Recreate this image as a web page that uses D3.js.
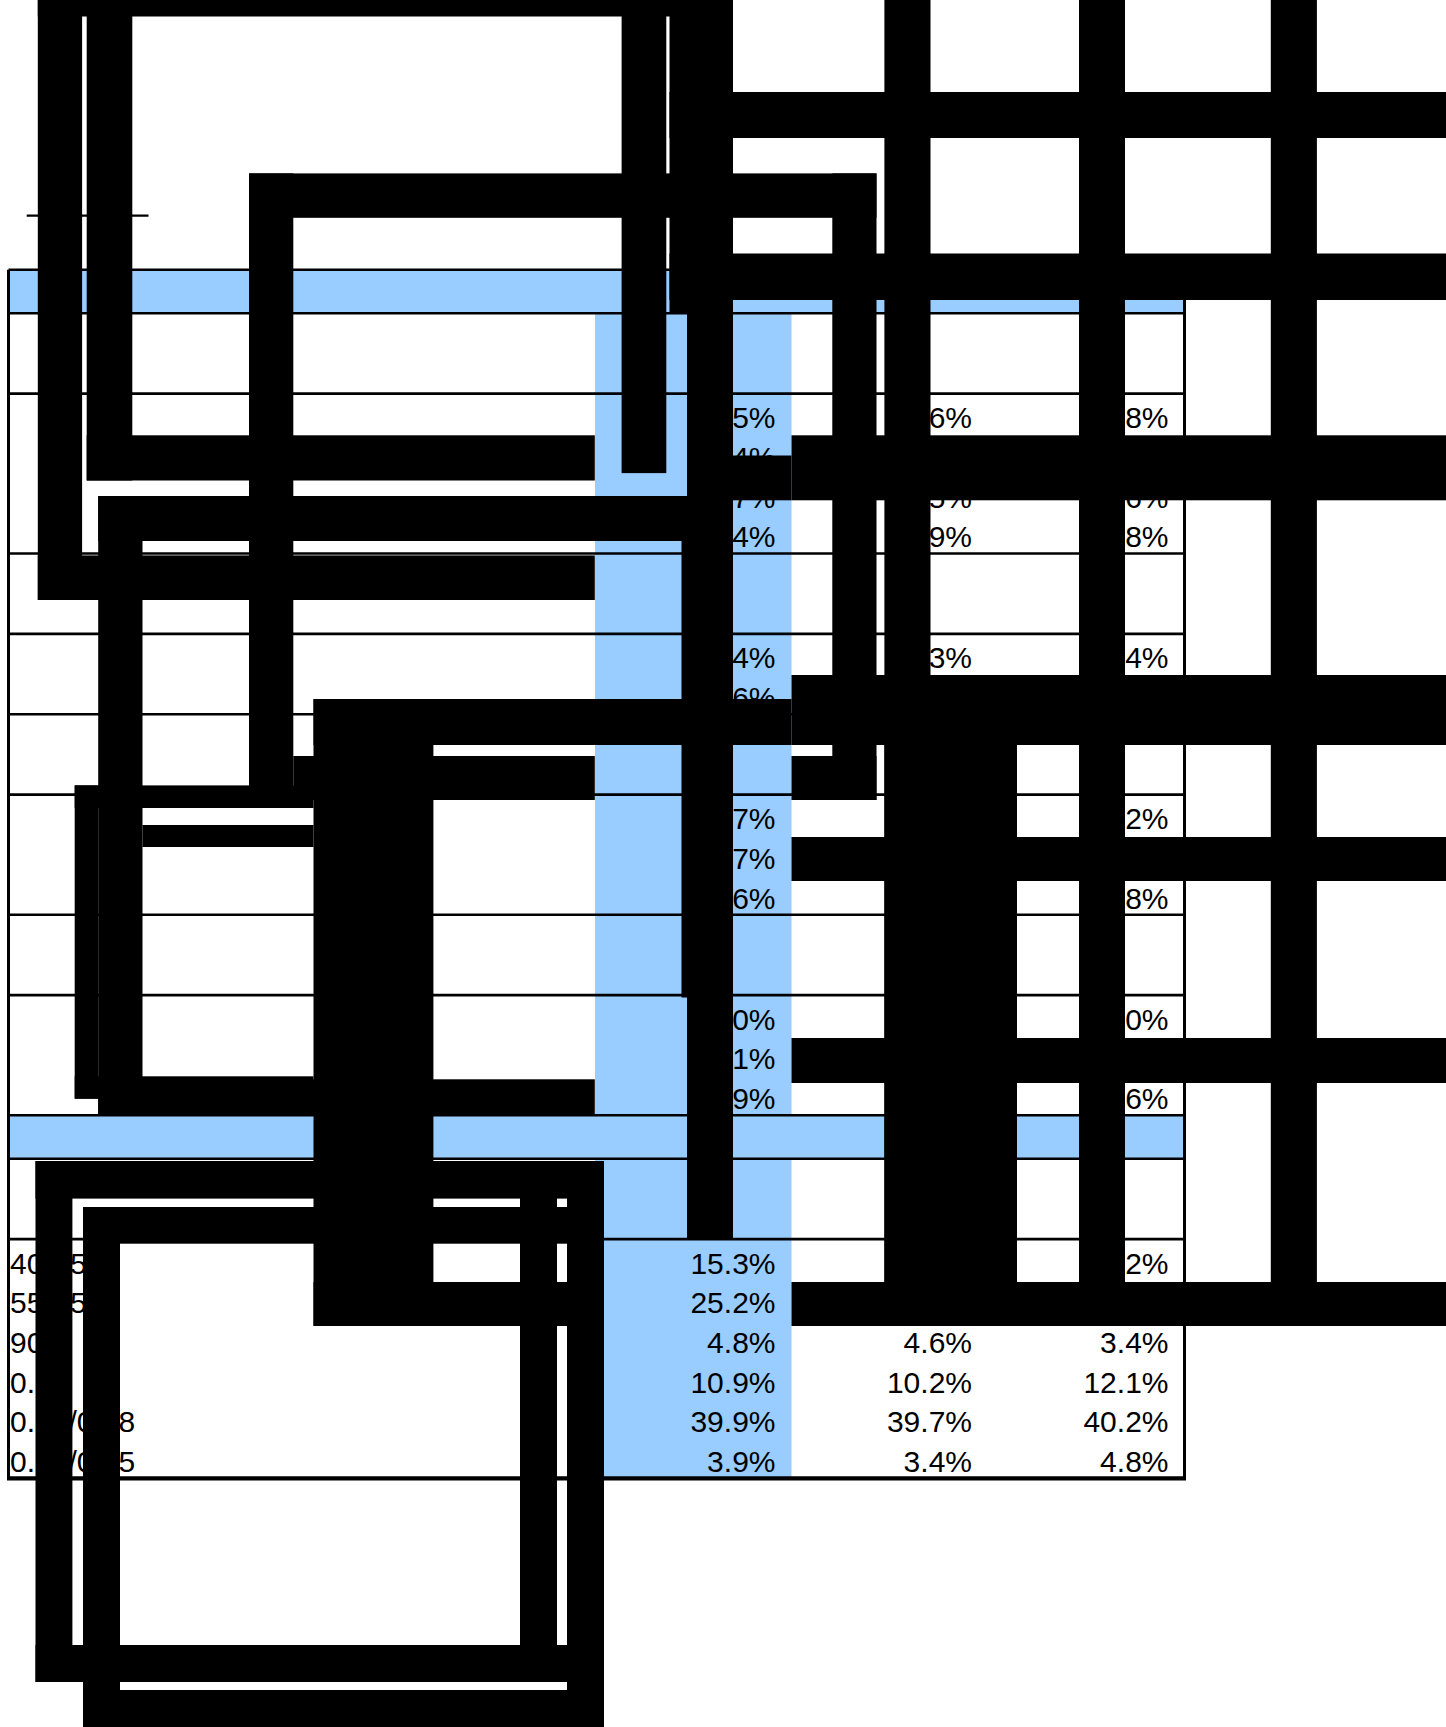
<!DOCTYPE html>
<html>
<head>
<meta charset="utf-8">
<script src="https://cdn.jsdelivr.net/npm/d3@7/dist/d3.min.js"></script>
<style>
  html, body { margin: 0; padding: 0; background: #fff; }
  svg { display: block; }
</style>
</head>
<body>
<div id="table"></div>
<script>
// Tamaño del lienzo
const width = 1446;
const height = 1727;

// Columnas de valores
const columns = ["overall", "group1", "group2"];

// Líneas de datos de cada bloque
const blockLines = [4, 2, 3, 3, 6];

// Valores por columna y bloque
const overall = [
  ["12.5%", "21.4%", "33.7%", "32.4%"],
  ["61.4%", "38.6%"],
  ["27.7%", "48.7%", "23.6%"],
  ["35.0%", "41.1%", "23.9%"],
  ["15.3%", "25.2%", "4.8%", "10.9%", "39.9%", "3.9%"]
];
const group1 = [
  ["12.6%", "20.1%", "35.5%", "31.9%"],
  ["60.3%", "39.7%"],
  ["27.3%", "48.9%", "23.8%"],
  ["35.1%", "41.5%", "23.4%"],
  ["15.4%", "25.5%", "4.6%", "10.2%", "39.7%", "3.4%"]
];
const group2 = [
  ["12.8%", "22.9%", "31.6%", "32.8%"],
  ["62.4%", "37.6%"],
  ["28.2%", "48.0%", "23.8%"],
  ["35.0%", "40.4%", "24.6%"],
  ["15.2%", "24.8%", "3.4%", "12.1%", "40.2%", "4.8%"]
];

// Etiquetas del último bloque
const lastLabels = ["40-55", "55-65", "90+", "0.85", "0.80/0.78", "0.95/0.85"];

// Cajas negras de tachado [x0, y0, x1, y1] en píxeles de página
const blackBoxes = [
  [37.8, 0, 733, 16.5], [37.8, 0, 82.1, 600], [37.8, 555.4, 594.8, 600],
  [86.7, 0, 132.3, 480.5], [86.7, 435.3, 594.8, 480.5],
  [621.6, 0, 666.3, 473.1], [669.5, 0, 733, 313], [687, 0, 733, 1240], [681.5, 541, 733, 997.5],
  [669.5, 92, 1446, 138], [669.5, 253.5, 1446, 300],
  [249, 173.4, 876.5, 217.8], [249, 173.4, 293.3, 800], [832.3, 173.4, 876.5, 800],
  [293.3, 756, 594.8, 800], [791.5, 756, 876.5, 800],
  [884.4, 0, 930.5, 1282], [884.4, 745, 1017, 1282], [1079, 0, 1125, 1282], [1270.8, 0, 1316.9, 1282],
  [791.5, 435.3, 1446, 500.3], [733, 455.5, 791.5, 500.3],
  [98.2, 496, 733, 541], [98.2, 496, 142.5, 1114.2], [98.2, 1079.3, 594.8, 1114.2],
  [313.5, 699, 791.5, 745], [791.5, 675, 1446, 745], [313.5, 699, 433.4, 1326],
  [74.7, 785.4, 98.2, 1098.7], [74.7, 785.4, 313.5, 808], [74.7, 1076.3, 313.5, 1098.7],
  [142.5, 825, 313.5, 847],
  [791.5, 837, 1446, 881], [791.5, 1038, 1446, 1083],
  [313.5, 1282, 604, 1326], [791.5, 1282, 1446, 1326],
  [35.5, 1161, 604, 1198.6], [35.5, 1161, 72.4, 1682], [520, 1161, 557, 1682], [35.5, 1645, 604, 1682],
  [83, 1207, 604, 1243.7], [83, 1207, 120, 1727], [567, 1161, 604, 1727], [83, 1690, 604, 1727]
];

// Geometría de la tabla
const tableLeft = 8.5, tableRight = 1184.5, tableTop = 269.75;
const labelRight = 595;
const lineHeight = 39.7, rowPad = 1, bandHeight = 43.5, baseOffset = 34.5;
const blue = "#99ccff";
const font = "'Liberation Sans', Arial, Helvetica, sans-serif";

const svg = d3.select("#table").append("svg")
    .attr("width", width)
    .attr("height", height)
    .attr("viewBox", [0, 0, width, height]);

// Escalas de página y de columnas
const px = d3.scaleLinear([0, width], [0, width]);
const py = d3.scaleLinear([0, height], [0, height]);
const xCol = d3.scaleBand(columns, [labelRight, tableRight]);

// Construye las filas: banda, encabezado de bloque, datos
const rows = [{ kind: "band" }];
blockLines.forEach((n, b) => {
    if (b === blockLines.length - 1) rows.push({ kind: "band" });
    rows.push({ kind: "heading", lines: 2 });
    rows.push({ kind: "data", lines: n, block: b });
});
let yCur = tableTop;
rows.forEach(r => {
    r.y = yCur;
    r.h = r.kind === "band" ? bandHeight : r.lines * lineHeight + rowPad;
    yCur += r.h;
});
const tableBottom = yCur;
const bodyTop = rows[1].y;

// Fondos azules
svg.append("rect")
    .attr("x", xCol("overall")).attr("y", bodyTop)
    .attr("width", xCol.bandwidth()).attr("height", tableBottom - bodyTop)
    .attr("fill", blue);

svg.selectAll("rect.band")
    .data(rows.filter(r => r.kind === "band"))
    .join("rect")
    .attr("class", "band")
    .attr("x", tableLeft).attr("y", d => d.y)
    .attr("width", tableRight - tableLeft).attr("height", d => d.h)
    .attr("fill", blue);

// Líneas horizontales de filas
svg.selectAll("line.row")
    .data(rows)
    .join("line")
    .attr("class", "row")
    .attr("x1", tableLeft).attr("x2", tableRight)
    .attr("y1", d => d.y).attr("y2", d => d.y)
    .attr("stroke", "#000").attr("stroke-width", 2.6);

svg.append("line")
    .attr("x1", tableLeft - 1.5).attr("x2", tableRight + 1.5)
    .attr("y1", tableBottom).attr("y2", tableBottom)
    .attr("stroke", "#000").attr("stroke-width", 4.2);

// Bordes verticales
svg.selectAll("line.side")
    .data([tableLeft, tableRight])
    .join("line")
    .attr("class", "side")
    .attr("x1", d => d).attr("x2", d => d)
    .attr("y1", tableTop).attr("y2", tableBottom)
    .attr("stroke", "#000").attr("stroke-width", 3);

// Textos de las celdas
const series = { overall, group1, group2 };
const cells = [];
rows.filter(r => r.kind === "data").forEach(r => {
    for (let i = 0; i < r.lines; i++) {
        const yb = r.y + baseOffset + i * lineHeight;
        if (r.block === blockLines.length - 1) {
            cells.push({ x: tableLeft + 1.5, y: yb, text: lastLabels[i], anchor: "start" });
        }
        columns.forEach(c => {
            cells.push({
                x: xCol(c) + xCol.bandwidth() - 16,
                y: yb,
                text: series[c][r.block][i],
                anchor: "end"
            });
        });
    }
});

svg.selectAll("text.cell")
    .data(cells)
    .join("text")
    .attr("class", "cell")
    .attr("x", d => d.x).attr("y", d => d.y)
    .attr("text-anchor", d => d.anchor)
    .attr("font-family", font)
    .attr("font-size", 30)
    .attr("fill", "#000")
    .text(d => d.text);

// Pequeña regla arriba a la izquierda
svg.append("line")
    .attr("x1", px(26.7)).attr("x2", px(148.5))
    .attr("y1", py(215.6)).attr("y2", py(215.6))
    .attr("stroke", "#000").attr("stroke-width", 2.2);

// Cajas negras encima
svg.selectAll("rect.redact")
    .data(blackBoxes)
    .join("rect")
    .attr("class", "redact")
    .attr("x", d => px(d[0])).attr("y", d => py(d[1]))
    .attr("width", d => px(d[2]) - px(d[0]))
    .attr("height", d => py(d[3]) - py(d[1]))
    .attr("fill", "#000");
</script>
</body>
</html>
